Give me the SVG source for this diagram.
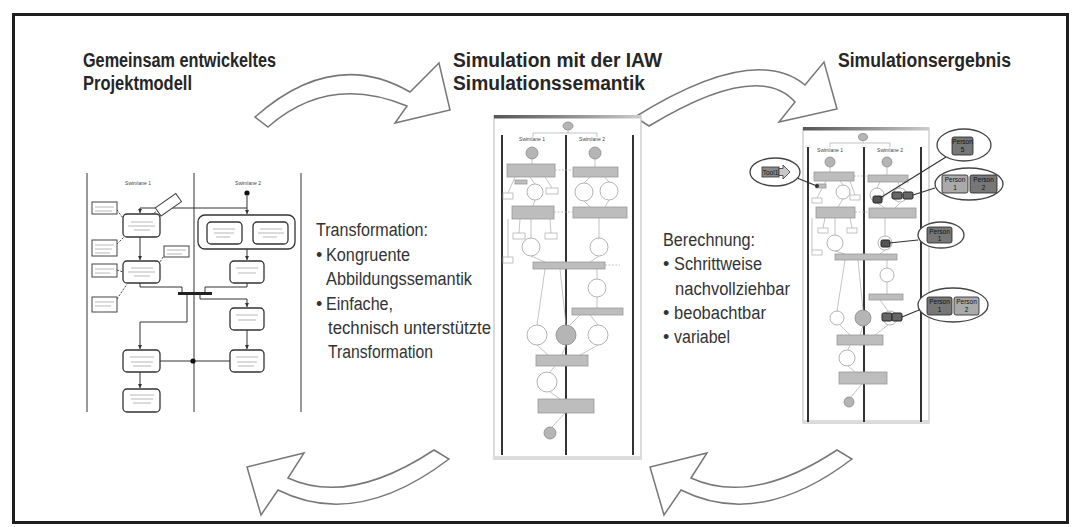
<svg xmlns="http://www.w3.org/2000/svg" width="1081" height="527" viewBox="0 0 1081 527">
<defs>
<style>
.ttl{font-family:"Liberation Sans",Arial,sans-serif;font-weight:bold;font-size:20px;fill:#262626}
.bd{font-family:"Liberation Sans",Arial,sans-serif;font-size:18px;fill:#333}
.tiny{font-family:"Liberation Sans",Arial,sans-serif;font-size:5px;fill:#444;text-anchor:middle}
.pt{font-family:"Liberation Sans",Arial,sans-serif;font-size:6.5px;fill:#111;text-anchor:middle}
.arw{fill:#fff;stroke:#777;stroke-width:1.5;stroke-linejoin:miter}
.lane{stroke:#333;stroke-width:2}
.lane1{stroke:#555;stroke-width:1.2}
.act{fill:#fff;stroke:#333;stroke-width:1.3}
.dat{fill:#fff;stroke:#444;stroke-width:1}
.cn{fill:none;stroke:#333;stroke-width:1}
.dsh{fill:none;stroke:#444;stroke-width:1;stroke-dasharray:2 1.5}
.ph{stroke:#b8b8b8;stroke-width:1}
.gb{fill:#bdbdbd;stroke:#9a9a9a;stroke-width:0.8}
.wc{fill:#fff;stroke:#a0a0a0;stroke-width:0.8}
.gc{fill:#b5b5b5;stroke:#8a8a8a;stroke-width:0.8}
.sb{fill:#fff;stroke:#aaa;stroke-width:0.7}
.tc{fill:none;stroke:#aaa;stroke-width:0.7}
.scr{fill:#fff;stroke:#c4c4c4;stroke-width:1.2}
.ell{fill:#fff;stroke:#444;stroke-width:1.3}
.cl{stroke:#333;stroke-width:1.2}
.tk{stroke:#222;stroke-width:1}
</style>
<linearGradient id="bar" x1="0" y1="0" x2="1" y2="0">
<stop offset="0" stop-color="#555"/><stop offset="0.6" stop-color="#999"/><stop offset="1" stop-color="#ccc"/>
</linearGradient>
<marker id="ah" viewBox="0 0 6 6" refX="6" refY="3" markerWidth="4" markerHeight="4" orient="auto">
<path d="M0,0 L6,3 L0,6 Z" fill="#333"/>
</marker>
</defs>

<rect x="0" y="0" width="1081" height="527" fill="#fff"/>
<rect id="frame" x="13.5" y="14.5" width="1054" height="508" fill="none" stroke="#1e1e1e" stroke-width="3"/>

<g id="titles">
<text class="ttl" x="83" y="67" textLength="193" lengthAdjust="spacingAndGlyphs">Gemeinsam entwickeltes</text>
<text class="ttl" x="83" y="90" textLength="109" lengthAdjust="spacingAndGlyphs">Projektmodell</text>
<text class="ttl" x="453" y="67" textLength="209" lengthAdjust="spacingAndGlyphs">Simulation mit der IAW</text>
<text class="ttl" x="453" y="90" textLength="192" lengthAdjust="spacingAndGlyphs">Simulationssemantik</text>
<text class="ttl" x="838" y="67" textLength="173" lengthAdjust="spacingAndGlyphs">Simulationsergebnis</text>
</g>

<g id="arrows">
<path class="arw" d="M255,117 Q333.5,47.5 410,92 L439,63 L450,110 L395,123 L407,106 Q328.5,73.5 268,127 Z"/>
<path class="arw" d="M635,117 Q754,43 805,85 L824,62 L837,109 L779,122 L795,102 Q758,60 649,126 Z"/>
<path class="arw" d="M434,450 Q349,506 288,478 L304,453 L247,467 L261,515 L278,490 Q356.5,529.5 449,459 Z"/>
<path class="arw" d="M837,450 Q752,506 691,478 L707,453 L650,467 L664,515 L681,490 Q759.5,529.5 852,459 Z"/>
</g>

<g id="text-transformation">
<text class="bd" x="316" y="236" textLength="112" lengthAdjust="spacingAndGlyphs">Transformation:</text>
<text class="bd" x="316" y="261">•</text>
<text class="bd" x="326" y="261" textLength="84" lengthAdjust="spacingAndGlyphs">Kongruente</text>
<text class="bd" x="326" y="285" textLength="146" lengthAdjust="spacingAndGlyphs">Abbildungssemantik</text>
<text class="bd" x="316" y="310">•</text>
<text class="bd" x="326" y="310" textLength="67" lengthAdjust="spacingAndGlyphs">Einfache,</text>
<text class="bd" x="328" y="334" textLength="163" lengthAdjust="spacingAndGlyphs">technisch unterstützte</text>
<text class="bd" x="328" y="358" textLength="105" lengthAdjust="spacingAndGlyphs">Transformation</text>
</g>

<g id="text-berechnung">
<text class="bd" x="663" y="246" textLength="92" lengthAdjust="spacingAndGlyphs">Berechnung:</text>
<text class="bd" x="663" y="270">•</text>
<text class="bd" x="674" y="270" textLength="88" lengthAdjust="spacingAndGlyphs">Schrittweise</text>
<text class="bd" x="675" y="295" textLength="115" lengthAdjust="spacingAndGlyphs">nachvollziehbar</text>
<text class="bd" x="663" y="319">•</text>
<text class="bd" x="674" y="319" textLength="92" lengthAdjust="spacingAndGlyphs">beobachtbar</text>
<text class="bd" x="663" y="343">•</text>
<text class="bd" x="674" y="343" textLength="56" lengthAdjust="spacingAndGlyphs">variabel</text>
</g>

<!-- Left: project model -->
<g id="model">
<line class="lane1" x1="87" y1="173" x2="87" y2="412"/>
<line class="lane1" x1="194" y1="173" x2="194" y2="412"/>
<line class="lane1" x1="301" y1="173" x2="301" y2="412"/>
<text class="tiny" x="138" y="185">Swimlane 1</text>
<text class="tiny" x="248" y="185">Swimlane 2</text>
<g id="model-connectors">
<path class="cn" d="M247,196 V214" marker-end="url(#ah)"/>
<path class="cn" d="M247,208 H140 V213" marker-end="url(#ah)"/>
<path class="cn" d="M140,237 V260" marker-end="url(#ah)"/>
<path class="cn" d="M247,249 V260" marker-end="url(#ah)"/>
<path class="cn" d="M140,283 V287 H182 V292"/>
<path class="cn" d="M247,283 V287 H205 V292"/>
<path class="cn" d="M187,295 V322 H140 V349" marker-end="url(#ah)"/>
<path class="cn" d="M200,295 V299 H247 V307" marker-end="url(#ah)"/>
<path class="cn" d="M247,330 V349" marker-end="url(#ah)"/>
<path class="cn" d="M160,361 H230"/>
<path class="cn" d="M140,372 V388" marker-end="url(#ah)"/>
<path class="dsh" d="M117,210 L123,218"/>
<path class="dsh" d="M117,244 L124,237"/>
<path class="dsh" d="M117,270 L123,272"/>
<path class="dsh" d="M117,299 L127,284"/>
<path class="dsh" d="M165,254 L160,262"/>
<path class="dsh" d="M159,210 L152,214"/>
</g>
<rect x="178" y="292" width="34" height="3" fill="#222"/>
<circle cx="247" cy="193" r="2.6" fill="#111"/>
<circle cx="193" cy="361" r="2.6" fill="#111"/>
<rect class="act" x="123" y="214" width="37" height="23" rx="4"/>
<rect class="act" x="123" y="261" width="37" height="22" rx="4"/>
<rect class="act" x="198" y="215" width="97" height="34" rx="7" stroke-width="1.6"/>
<rect class="act" x="207" y="222" width="35" height="22" rx="4"/>
<rect class="act" x="253" y="222" width="35" height="22" rx="4"/>
<rect class="act" x="230" y="261" width="34" height="22" rx="4"/>
<rect class="act" x="230" y="308" width="34" height="22" rx="4"/>
<rect class="act" x="123" y="350" width="37" height="22" rx="4"/>
<rect class="act" x="230" y="350" width="34" height="22" rx="4"/>
<rect class="act" x="123" y="389" width="37" height="23" rx="4"/>
<rect class="dat" x="92" y="202" width="25" height="12"/>
<rect class="dat" x="92" y="240" width="25" height="16"/>
<rect class="dat" x="92" y="264" width="25" height="13"/>
<rect class="dat" x="92" y="297" width="25" height="15"/>
<rect class="dat" x="164" y="246" width="25" height="11"/>
<rect class="dat" x="156" y="200" width="25" height="10" transform="rotate(-35 168 205)"/>
<g id="model-placeholders">
<path class="ph" d="M131,222h22M128,226h27M134,230h16M131,268h22M128,272h27M134,276h16M213,229h22M214,233h20M216,237h14M260,229h22M258,233h26M263,237h14M236,268h22M238,273h18M236,315h22M238,320h18M130,357h24M131,362h22M133,366h18M236,357h22M237,362h20M238,366h16M130,395h24M131,399h22M133,403h18M95,207h19M95,211h17M95,245h19M95,249h17M95,253h15M95,269h19M95,273h15M95,302h19M95,306h16M167,250h19M167,254h15"/>
</g>
</g>

<!-- Center: simulation screenshot -->
<g id="simulation">
<rect class="scr" x="494" y="116" width="147" height="343"/>
<rect x="494" y="115" width="147" height="3.5" fill="url(#bar)"/>
<rect x="494" y="456" width="147" height="3" fill="#dcdcdc"/>
<line class="lane" x1="502" y1="135" x2="502" y2="455"/>
<line class="lane" x1="566" y1="135" x2="566" y2="455"/>
<line class="lane" x1="633" y1="135" x2="633" y2="455"/>
<g id="sim-connectors">
<path class="tc" d="M568,130 V133 M533,137 V133 H597 V137"/>
<path class="tc" d="M532,159 V164 M595,159 V167 M530,177 L535,184 M545,177 L552,188 M515,177 L508,193 M590,177 L584,183 M605,177 L609,182 M584,201 L590,207 M609,200 L605,207 M535,200 L533,206 M520,219 L519,233 M550,219 L551,233 M531,219 V238 M508,219 V257 M599,218 V238 M531,256 L545,262 M599,256 L590,262 M597,269 V279 M597,297 V308 M545,269 L537,325 M560,269 L566,325 M590,315 L598,325 M580,315 L570,325 M537,345 L548,355 M566,345 L562,355 M598,345 L580,355 M555,366 L550,372 M550,392 L560,399 M565,413 L552,427"/>
<path class="tc" stroke-dasharray="2 1.5" d="M555,170 H573 M554,212 H573 M605,265 H620"/>
</g>
<ellipse cx="568" cy="126" rx="5" ry="4" class="gc"/>
<text class="tiny" x="532" y="141" font-size="4.5">Swimlane 1</text>
<text class="tiny" x="592" y="141" font-size="4.5">Swimlane 2</text>
<circle class="gc" cx="532" cy="153" r="6"/>
<circle class="gc" cx="595" cy="153" r="6"/>
<rect class="gb" x="507" y="164" width="48" height="13"/>
<rect class="gb" x="573" y="167" width="45" height="10"/>
<rect class="gb" x="515" y="180" width="12" height="4"/>
<rect class="gb" x="512" y="206" width="42" height="13"/>
<rect class="gb" x="573" y="207" width="54" height="11"/>
<rect class="gb" x="533" y="262" width="72" height="7"/>
<rect class="gb" x="572" y="308" width="51" height="7"/>
<rect class="gb" x="536" y="355" width="52" height="11"/>
<rect class="gb" x="538" y="399" width="56" height="14"/>
<circle class="wc" cx="535" cy="192" r="8"/>
<circle class="wc" cx="584" cy="192" r="9"/>
<circle class="wc" cx="609" cy="191" r="9"/>
<circle class="wc" cx="531" cy="247" r="9"/>
<circle class="wc" cx="599" cy="247" r="9"/>
<circle class="wc" cx="597" cy="288" r="9"/>
<circle class="wc" cx="537" cy="335" r="10"/>
<circle class="gc" cx="566" cy="335" r="10"/>
<circle class="wc" cx="598" cy="335" r="10"/>
<circle class="wc" cx="547" cy="382" r="10"/>
<circle class="gc" cx="550" cy="433" r="6"/>
<rect class="sb" x="503" y="193" width="10" height="6"/>
<rect class="sb" x="546" y="188" width="12" height="6"/>
<rect class="sb" x="513" y="233" width="12" height="6"/>
<rect class="sb" x="545" y="233" width="12" height="6"/>
<rect class="sb" x="503" y="257" width="10" height="6"/>
</g>

<!-- Right: simulation result screenshot -->
<g id="result">
<rect class="scr" x="803" y="128" width="126" height="295"/>
<rect x="803" y="127" width="126" height="3.5" fill="url(#bar)"/>
<rect x="803" y="420" width="126" height="3" fill="#dcdcdc"/>
<line class="lane" x1="808" y1="147" x2="808" y2="422"/>
<line class="lane" x1="864" y1="147" x2="864" y2="422"/>
<line class="lane" x1="921" y1="147" x2="921" y2="422"/>
<g id="res-connectors">
<path class="tc" d="M863,140 V143 M830,147 V143 H890 V147"/>
<path class="tc" d="M830,167 V172 M887,167 V175 M840,181 L843,185 M826,181 L817,198 M850,181 L855,195 M880,182 L877,188 M898,182 L900,188 M843,199 L838,207 M877,203 L885,208 M900,203 L895,208 M825,218 L823,228 M850,218 L852,228 M835,218 V235 M812,218 V250 M885,218 V236 M835,251 L845,254 M885,250 L880,254 M887,260 V268 M887,282 V294 M845,260 L837,311 M858,260 L863,310 M880,300 L888,311 M840,325 L850,335 M863,326 L860,335 M888,325 L875,335 M850,345 L848,350 M848,366 L855,372 M862,384 L851,397"/>
<path class="tc" stroke-dasharray="2 1.5" d="M854,176 H868 M855,212 H869"/>
</g>
<ellipse cx="863" cy="137" rx="4.5" ry="3.5" class="gc"/>
<text class="tiny" x="830" y="152" font-size="4">Swimlane 1</text>
<text class="tiny" x="890" y="152" font-size="4">Swimlane 2</text>
<circle class="gc" cx="830" cy="162" r="5"/>
<circle class="gc" cx="887" cy="162" r="5"/>
<rect class="gb" x="814" y="172" width="40" height="9"/>
<rect class="gb" x="868" y="175" width="40" height="7"/>
<rect class="gb" x="816" y="207" width="39" height="11"/>
<rect class="gb" x="869" y="208" width="47" height="10"/>
<rect class="gb" x="835" y="254" width="62" height="6"/>
<rect class="gb" x="869" y="294" width="34" height="6"/>
<rect class="gb" x="837" y="335" width="46" height="10"/>
<rect class="gb" x="839" y="372" width="48" height="12"/>
<rect class="gb" x="816" y="184" width="10" height="4"/>
<circle class="wc" cx="843" cy="192" r="7"/>
<circle class="wc" cx="877" cy="195" r="7"/>
<circle class="wc" cx="900" cy="195" r="7"/>
<circle class="wc" cx="835" cy="243" r="8"/>
<circle class="wc" cx="885" cy="243" r="7"/>
<circle class="wc" cx="887" cy="275" r="7"/>
<circle class="wc" cx="837" cy="318" r="7"/>
<circle class="gc" cx="863" cy="318" r="8"/>
<circle class="wc" cx="890" cy="318" r="7"/>
<circle class="wc" cx="847" cy="358" r="8"/>
<circle class="gc" cx="849" cy="402" r="5"/>
<rect class="sb" x="812" y="198" width="10" height="5"/>
<rect class="sb" x="850" y="195" width="10" height="5"/>
<rect class="sb" x="818" y="228" width="10" height="5"/>
<rect class="sb" x="847" y="228" width="10" height="5"/>
<rect class="sb" x="812" y="250" width="10" height="5"/>
<circle cx="817" cy="186" r="2" fill="#333"/>
<g id="tokens">
<rect class="tk" x="873" y="196" width="9" height="7" rx="1.5" fill="#555"/>
<rect class="tk" x="892" y="192" width="10" height="7" rx="1.5" fill="#666"/>
<rect class="tk" x="903" y="192" width="10" height="7" rx="1.5" fill="#666"/>
<rect class="tk" x="881" y="240" width="9" height="7" rx="1.5" fill="#555"/>
<rect class="tk" x="882" y="313" width="10" height="8" rx="1.5" fill="#666"/>
<rect class="tk" x="892" y="313" width="10" height="8" rx="1.5" fill="#666"/>
</g>
</g>

<!-- Callouts -->
<g id="callout-lines">
<line class="cl" x1="797" y1="178" x2="817" y2="186"/>
<line class="cl" x1="946" y1="157" x2="880" y2="198"/>
<line class="cl" x1="935" y1="188" x2="913" y2="195"/>
<line class="cl" x1="918" y1="240" x2="889" y2="243"/>
<line class="cl" x1="919" y1="310" x2="902" y2="317"/>
</g>
<g id="callout-tool">
<ellipse class="ell" cx="775" cy="172" rx="25" ry="14"/>
<rect x="762" y="167" width="17" height="10" fill="#8a8a8a" stroke="#333" stroke-width="0.8"/>
<path d="M779,168.5 H783 V165 L790,172 L783,179 V175.5 H779 Z" fill="#c8c8c8" stroke="#333" stroke-width="0.8"/>
<text class="pt" x="770.5" y="174.5" font-size="6">Tool1</text>
</g>
<g id="callout-person5">
<ellipse class="ell" cx="964" cy="145" rx="27" ry="16"/>
<rect x="952" y="137" width="21" height="18" rx="2" fill="#777" stroke="#222" stroke-width="0.8"/>
<text class="pt" x="962.5" y="144">Person</text>
<text class="pt" x="962.5" y="152">5</text>
</g>
<g id="callout-person12-top">
<ellipse class="ell" cx="969" cy="184" rx="34" ry="16"/>
<rect x="942" y="175" width="26" height="18" rx="2" fill="#aaa" stroke="#222" stroke-width="0.8"/>
<rect x="970" y="175" width="27" height="18" rx="2" fill="#777" stroke="#222" stroke-width="0.8"/>
<text class="pt" x="955" y="182">Person</text>
<text class="pt" x="955" y="190">1</text>
<text class="pt" x="983.5" y="182">Person</text>
<text class="pt" x="983.5" y="190">2</text>
</g>
<g id="callout-person1">
<ellipse class="ell" cx="941" cy="235" rx="23" ry="13"/>
<rect x="927" y="227" width="25" height="16" rx="2" fill="#777" stroke="#222" stroke-width="0.8"/>
<text class="pt" x="939.5" y="234">Person</text>
<text class="pt" x="939.5" y="241">1</text>
</g>
<g id="callout-person12-bottom">
<ellipse class="ell" cx="953" cy="305" rx="35" ry="17"/>
<rect x="927" y="297" width="25" height="18" rx="2" fill="#777" stroke="#222" stroke-width="0.8"/>
<rect x="954" y="297" width="25" height="18" rx="2" fill="#aaa" stroke="#222" stroke-width="0.8"/>
<text class="pt" x="939.5" y="304">Person</text>
<text class="pt" x="939.5" y="312">1</text>
<text class="pt" x="966.5" y="304">Person</text>
<text class="pt" x="966.5" y="312">2</text>
</g>
</svg>
